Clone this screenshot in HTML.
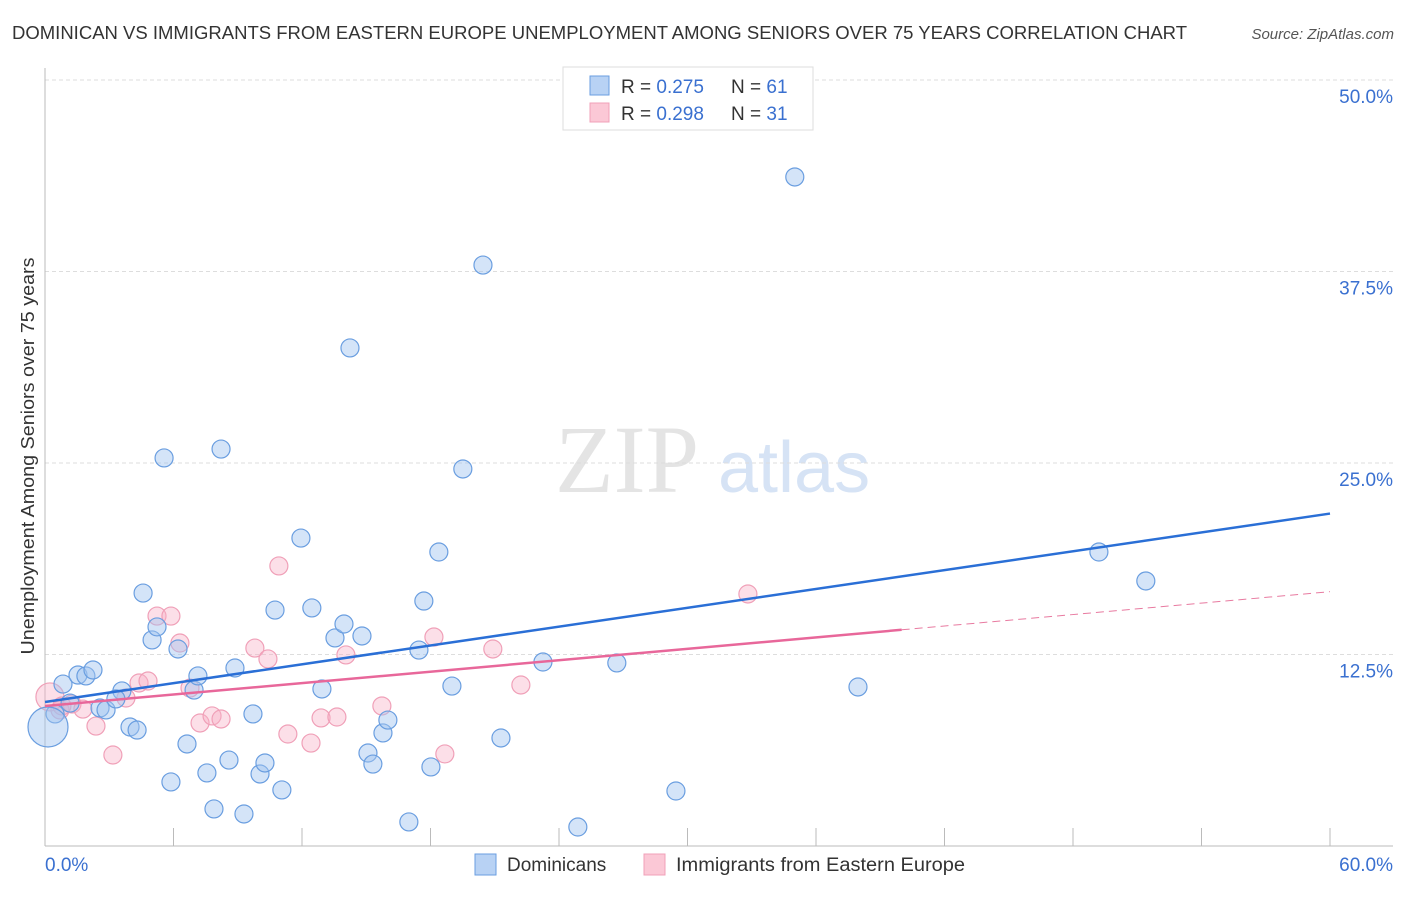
<!DOCTYPE html>
<html><head><meta charset="utf-8"><style>
body{margin:0;background:#fff;font-family:"Liberation Sans",sans-serif}
svg text{font-family:"Liberation Sans",sans-serif}
</style></head><body>
<svg width="1406" height="892">
<text x="12" y="39" font-size="18" fill="#333" textLength="1175" lengthAdjust="spacingAndGlyphs">DOMINICAN VS IMMIGRANTS FROM EASTERN EUROPE UNEMPLOYMENT AMONG SENIORS OVER 75 YEARS CORRELATION CHART</text>
<text x="1394" y="39" font-size="15" fill="#555" font-style="italic" text-anchor="end">Source: ZipAtlas.com</text>
<g>
<text x="555" y="492" font-size="96" fill="#e4e4e4" font-family="Liberation Serif" style="font-family:'Liberation Serif',serif">ZIP</text>
<text x="718" y="492" font-size="72" fill="#d6e3f5">atlas</text>
</g>
<g id="grid"></g>
<g id="axes"></g>
<g id="marks"></g>
<text transform="translate(34,456) rotate(-90)" font-size="18" fill="#333" text-anchor="middle" textLength="397" lengthAdjust="spacingAndGlyphs">Unemployment Among Seniors over 75 years</text>
<g>
<rect x="563" y="67" width="250" height="63" fill="#fff" stroke="#ddd"/>
<rect x="590" y="76" width="19" height="19" fill="#b8d2f4" stroke="#6a9ee0"/>
<rect x="590" y="103" width="19" height="19" fill="#fbc8d6" stroke="#f0a0b8"/>
<text x="621" y="93" font-size="19" fill="#333">R = <tspan fill="#3a70d0">0.275</tspan></text>
<text x="731" y="93" font-size="19" fill="#333">N = <tspan fill="#3a70d0">61</tspan></text>
<text x="621" y="120" font-size="19" fill="#333">R = <tspan fill="#3a70d0">0.298</tspan></text>
<text x="731" y="120" font-size="19" fill="#333">N = <tspan fill="#3a70d0">31</tspan></text>
</g>
<g>
<rect x="475" y="854" width="21" height="21" fill="#b8d2f4" stroke="#6a9ee0"/>
<text x="507" y="871" font-size="19" fill="#333">Dominicans</text>
<rect x="644" y="854" width="21" height="21" fill="#fbc8d6" stroke="#f0a0b8"/>
<text x="676" y="871" font-size="19" fill="#333" textLength="289" lengthAdjust="spacingAndGlyphs">Immigrants from Eastern Europe</text>
</g>
</svg>
<script>
const blueX=[0.47,0.84,1.54,1.91,2.24,1.17,2.57,2.85,3.59,3.31,3.97,4.30,4.58,5.00,5.23,5.56,5.88,6.21,6.63,6.96,7.14,7.56,7.89,8.22,8.59,8.87,9.29,9.71,10.04,10.27,10.74,11.06,11.95,12.46,12.93,13.54,13.96,14.24,14.80,15.08,15.31,15.78,16.01,16.99,17.46,17.69,18.02,18.39,19.00,19.51,20.45,21.29,23.25,24.88,26.70,29.46,35.01,37.96,49.21,51.40,0.14];
const blueY=[8.62,10.57,11.16,11.10,11.49,9.33,9.01,8.88,10.12,9.60,7.77,7.57,16.51,13.45,14.30,25.33,4.18,12.86,6.66,10.18,11.10,4.77,2.42,25.91,5.61,11.62,2.09,8.62,4.70,5.42,15.40,3.66,20.10,15.54,10.25,13.58,14.49,32.51,13.71,6.07,5.35,7.38,8.22,1.57,12.79,15.99,5.16,19.19,10.44,24.61,37.92,7.05,12.01,1.24,11.95,3.59,43.67,10.38,19.19,17.30,7.77];
const pinkX=[0.23,0.70,1.26,1.77,2.38,3.17,3.78,4.39,4.81,5.23,5.88,6.30,6.77,7.24,7.80,8.22,9.80,10.41,10.92,11.34,12.42,12.89,13.63,14.05,15.73,18.16,18.67,20.91,22.22,32.82,0.79];
const pinkY=[9.73,8.88,9.27,8.94,7.83,5.94,9.66,10.64,10.77,15.01,15.01,13.25,10.31,8.03,8.49,8.29,12.92,12.21,18.28,7.31,6.72,8.36,8.42,12.47,9.14,13.64,6.01,12.86,10.51,16.45,9.14];
const blueTrend=[9.4,21.7];
const pinkTrend=[9.14,16.6];
const pinkSolidEnd=40;
const yTicks=[12.5,25,37.5,50];
const yTickLabels=["12.5%","25.0%","37.5%","50.0%"];
const NS="http://www.w3.org/2000/svg";
const X=v=>45+v*(1285/60), Y=v=>846-v*(766/50);
function mk(tag,at,parent){const e=document.createElementNS(NS,tag);for(const k in at)e.setAttribute(k,at[k]);document.getElementById(parent).appendChild(e);return e;}
yTicks.forEach((t,i)=>{
 const l=mk('line',{x1:45,x2:1393,y1:Y(t),y2:Y(t),stroke:'#ddd','stroke-dasharray':'4,3'},'grid');
 
 
 const tx=mk('text',{x:1393,y:Y(t)+23,'font-size':19,fill:'#3a70d0','text-anchor':'end'},'grid');
 tx.textContent=yTickLabels[i];
 
 
});
let a=mk('line',{x1:45,x2:45,y1:68,y2:846,stroke:'#bbb'},'axes');

a=mk('line',{x1:45,x2:1393,y1:846,y2:846,stroke:'#bbb'},'axes');

for(let i=1;i<=10;i++){const t=mk('line',{x1:X(i*6),x2:X(i*6),y1:828,y2:846,stroke:'#bbb'},'axes');
 }
let t0=mk('text',{x:45,y:871,'font-size':19,fill:'#3a70d0'},'axes');t0.textContent='0.0%';

t0=mk('text',{x:1393,y:871,'font-size':19,fill:'#3a70d0','text-anchor':'end'},'axes');t0.textContent='60.0%';

pinkX.forEach((x,i)=>{const c=mk('circle',{cx:X(x),cy:Y(pinkY[i]),r:i==0?14:9,fill:'rgba(248,176,198,0.4)',stroke:'#f0a0b8','stroke-width':1.2},'marks');
 });
blueX.forEach((x,i)=>{const c=mk('circle',{cx:X(x),cy:Y(blueY[i]),r:i==60?20:9,fill:'rgba(160,196,240,0.45)',stroke:'#6a9ee0','stroke-width':1.2},'marks');
 });
const py=x=>pinkTrend[0]+(pinkTrend[1]-pinkTrend[0])*x/60;
let l=mk('line',{x1:X(pinkSolidEnd),y1:Y(py(pinkSolidEnd)),x2:X(60),y2:Y(pinkTrend[1]),stroke:'#e87aa0','stroke-width':1,'stroke-dasharray':'8,5'},'marks');

l=mk('line',{x1:X(0),y1:Y(pinkTrend[0]),x2:X(pinkSolidEnd),y2:Y(py(pinkSolidEnd)),stroke:'#e8679a','stroke-width':2.5},'marks');

l=mk('line',{x1:X(0),y1:Y(blueTrend[0]),x2:X(60),y2:Y(blueTrend[1]),stroke:'#2a6fd6','stroke-width':2.5},'marks');

</script>
</body></html>
